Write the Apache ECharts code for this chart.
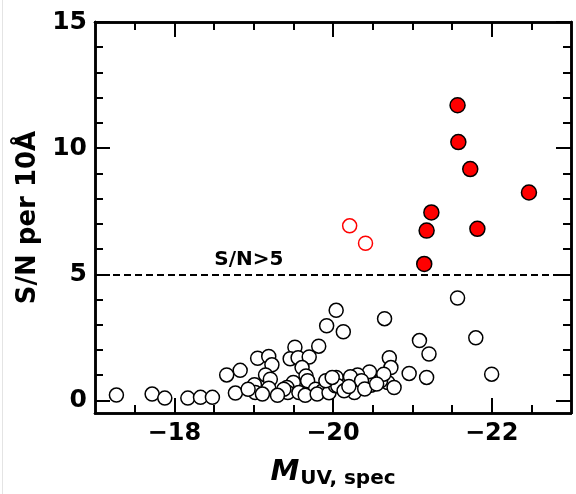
<!DOCTYPE html>
<html>
<head>
<meta charset="utf-8">
<script src="https://cdn.jsdelivr.net/npm/echarts@6/dist/echarts.min.js"></script>
<style>
  html, body { margin: 0; padding: 0; background: #fff; }
  #chart { width: 576px; height: 494px; }
</style>
</head>
<body>
<div id="chart"></div>
<script>
// Sources below the S/N threshold: [M_UV, S/N per 10 Å]
const lowSN = [
  [-17.27, 0.21], [-17.72, 0.25], [-17.88, 0.09], [-18.17, 0.09], [-18.33, 0.12], [-18.48, 0.12],
  [-18.66, 1.01], [-18.83, 1.19], [-18.77, 0.29],
  [-19.05, 1.67], [-19.19, 1.74], [-19.23, 1.41], [-19.15, 1.01], [-19.21, 0.84], [-19.01, 0.62],
  [-19.02, 0.31], [-18.93, 0.44], [-19.19, 0.48], [-19.11, 0.25],
  [-19.52, 2.11], [-19.46, 1.65], [-19.56, 1.69], [-19.70, 1.72], [-19.61, 1.30], [-19.66, 0.97],
  [-19.68, 0.78], [-19.50, 0.71], [-19.42, 0.51], [-19.43, 0.31], [-19.38, 0.44], [-19.57, 0.31],
  [-19.78, 0.44], [-19.87, 0.38], [-19.30, 0.20], [-19.65, 0.20], [-19.80, 0.25], [-19.95, 0.30],
  [-19.82, 2.15], [-19.92, 2.96], [-20.04, 3.57], [-20.04, 0.91], [-20.03, 0.58],
  [-20.13, 2.72], [-20.65, 3.24], [-21.57, 4.06], [-21.09, 2.37], [-21.80, 2.48], [-21.21, 1.84],
  [-20.71, 1.69], [-20.73, 1.30], [-20.96, 1.07], [-21.18, 0.91], [-22.00, 1.04], [-20.69, 0.71],
  [-20.77, 0.51], [-20.46, 1.13], [-20.48, 0.60], [-20.31, 1.01], [-20.22, 0.94], [-20.06, 0.58],
  [-20.27, 0.31], [-20.14, 0.38], [-19.91, 0.78], [-19.99, 0.91], [-20.36, 0.78], [-20.60, 0.78],
  [-20.64, 1.04], [-20.20, 0.55], [-20.40, 0.45], [-20.55, 0.65]
];

// High-S/N sources (filled red)
const highSN = [
  [-21.57, 11.70], [-21.58, 10.24], [-21.73, 9.17], [-22.47, 8.24],
  [-21.24, 7.45], [-21.18, 6.73], [-21.82, 6.80], [-21.15, 5.41]
];

// High-S/N sources (open red)
const highSNOpen = [
  [-20.21, 6.92], [-20.41, 6.23]
];

const snThreshold = 5;
const thresholdText = 'S/N>5';
const thresholdTextAt = [-18.94, 5.58];

const xMajorTicks = [-22, -20, -18];
const xMinorTicks = [-22.5, -21.5, -21, -20.5, -19.5, -19, -18.5, -17.5];
const yMajorTicks = [0, 5, 10, 15];
const yMinorTicks = [1, 2, 3, 4, 6, 7, 8, 9, 11, 12, 13, 14];

const FONT = 'DejaVu Sans';
const INK = '#000';

function xAxisDef(position, ticks, len, withLabels) {
  const ax = {
    type: 'value', position: position, min: -23, max: -17, inverse: true,
    axisLine: { show: true, onZero: false, lineStyle: { color: INK, width: 2.5 } },
    axisTick: { show: true, inside: true, length: len, customValues: ticks,
                lineStyle: { color: INK, width: 2 } },
    axisLabel: { show: false },
    splitLine: { show: false }
  };
  if (withLabels) {
    ax.axisLabel = {
      show: true, customValues: xMajorTicks, margin: 9,
      fontFamily: FONT, fontWeight: 'bold', fontSize: 24, color: INK,
      formatter: v => '\u2212' + Math.abs(v)
    };
    ax.name = '{m|M}{s|UV, spec}';
    ax.nameLocation = 'middle';
    ax.nameGap = 42;
    ax.nameTextStyle = {
      rich: {
        m: { fontFamily: FONT, fontWeight: 'bold', fontStyle: 'italic', fontSize: 29, color: INK, lineHeight: 34 },
        s: { fontFamily: FONT, fontWeight: 'bold', fontSize: 20, color: INK, verticalAlign: 'bottom', lineHeight: 26, padding: [0, 0, 0, 1] }
      }
    };
  }
  return ax;
}

function yAxisDef(position, ticks, len, withLabels) {
  const ax = {
    type: 'value', position: position, min: -0.5, max: 15,
    axisLine: { show: true, onZero: false, lineStyle: { color: INK, width: 2.5 } },
    axisTick: { show: true, inside: true, length: len, customValues: ticks,
                lineStyle: { color: INK, width: 2 } },
    axisLabel: { show: false },
    splitLine: { show: false }
  };
  if (withLabels) {
    ax.axisLabel = {
      show: true, customValues: yMajorTicks, margin: 8,
      fontFamily: FONT, fontWeight: 'bold', fontSize: 25, color: INK
    };
    ax.name = 'S/N per 10Å';
    ax.nameLocation = 'middle';
    ax.nameGap = 51;
    ax.nameRotate = 90;
    ax.nameTextStyle = { fontFamily: FONT, fontWeight: 'bold', fontSize: 26, color: INK };
  }
  return ax;
}

const chart = echarts.init(document.getElementById('chart'), null, { renderer: 'canvas' });

chart.setOption({
  backgroundColor: '#fff',
  animation: false,
  grid: { left: 95, right: 5, top: 22, bottom: 78, containLabel: false },
  graphic: [{
    type: 'line', silent: true,
    shape: { x1: 2.5, y1: 0, x2: 2.5, y2: 494 },
    style: { stroke: '#e4e4e4', lineWidth: 1 }
  }],
  xAxis: [
    xAxisDef('bottom', xMajorTicks, 15, true),
    xAxisDef('bottom', xMinorTicks, 8, false),
    xAxisDef('top', xMajorTicks, 15, false),
    xAxisDef('top', xMinorTicks, 8, false)
  ],
  yAxis: [
    yAxisDef('left', yMajorTicks, 15, true),
    yAxisDef('left', yMinorTicks, 8, false),
    yAxisDef('right', yMajorTicks, 15, false),
    yAxisDef('right', yMinorTicks, 8, false)
  ],
  series: [
    {
      name: 'threshold', type: 'line', data: [], silent: true,
      markLine: {
        silent: true, symbol: 'none', label: { show: false },
        lineStyle: { color: INK, width: 2, type: [7, 4], opacity: 1 },
        data: [{ yAxis: snThreshold }]
      }
    },
    {
      name: 'low S/N', type: 'scatter', data: lowSN, symbol: 'circle', symbolSize: 14,
      itemStyle: { color: '#fff', borderColor: INK, borderWidth: 1.5, opacity: 1 }
    },
    {
      name: 'high S/N open', type: 'scatter', data: highSNOpen, symbol: 'circle', symbolSize: 14,
      itemStyle: { color: 'rgba(255,255,255,0)', borderColor: '#ff0000', borderWidth: 1.5, opacity: 1 }
    },
    {
      name: 'high S/N', type: 'scatter', data: highSN, symbol: 'circle', symbolSize: 15,
      itemStyle: { color: '#ff0000', borderColor: INK, borderWidth: 1.5, opacity: 1 }
    },
    {
      name: 'threshold label', type: 'scatter', data: [thresholdTextAt], symbolSize: 0, silent: true,
      itemStyle: { opacity: 1 },
      label: {
        show: true, position: 'inside', formatter: thresholdText, opacity: 1,
        fontFamily: FONT, fontWeight: 'bold', fontSize: 20, color: INK,
        textBorderWidth: 0, textBorderColor: 'transparent'
      }
    }
  ]
});
</script>
</body>
</html>
